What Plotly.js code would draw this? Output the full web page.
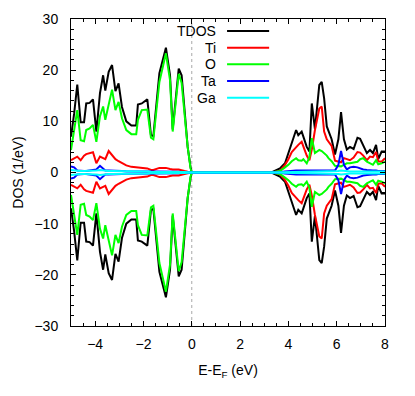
<!DOCTYPE html>
<html>
<head>
<meta charset="utf-8">
<script src="https://cdn.plot.ly/plotly-3.0.1.min.js"></script>
<style>
body { margin: 0; background: #fff; }
#myDiv { width: 415px; height: 396px; }
</style>
</head>
<body>
<div id="myDiv"></div>
<script>
// energy grid (eV), valence band then conduction band
var energy = [-5.0, -4.87, -4.74, -4.6, -4.46, -4.37, -4.23, -4.09, -3.95, -3.8,
    -3.67, -3.58, -3.44, -3.3, -3.16, -3.03, -2.89, -2.71, -2.5, -2.3,
    -2.23, -2.07, -1.84, -1.69, -1.59, -1.34, -1.07, -0.9, -0.79, -0.54,
    -0.42, -0.3, -0.17, -0.05, 0.0,
    3.3, 3.65, 3.86, 4.0, 4.14, 4.32, 4.41, 4.55, 4.62, 4.76,
    4.87, 4.97, 5.1, 5.28, 5.38, 5.48, 5.59, 5.66, 5.79, 5.93,
    6.07, 6.18, 6.3, 6.42, 6.55, 6.7, 6.86, 6.97, 7.1, 7.25,
    7.38, 7.5, 7.63, 7.72, 7.86, 8.0];

var tdos = [7.0, 11.5, 17.2, 9.8, 9.8, 13.5, 13.6, 14.3, 8.0, 15.5,
    19.0, 16.0, 19.7, 21.0, 15.9, 17.4, 12.8, 10.0, 9.2, 9.2,
    13.3, 13.5, 14.3, 7.3, 7.1, 19.4, 24.4, 19.0, 8.4, 20.3,
    19.0, 12.0, 5.0, 1.0, 0.0,
    0.0, 0.8, 1.8, 3.8, 6.0, 8.3, 7.3, 8.0, 7.0, 5.0,
    4.1, 13.5, 8.5, 17.1, 17.7, 14.5, 9.0, 8.0, 6.5, 3.5,
    6.5, 11.8, 6.5, 4.5, 5.0, 4.6, 6.8, 6.6, 5.4, 3.8,
    4.4, 3.8, 5.4, 2.6, 4.1, 4.1];

var ti = [2.4, 2.8, 3.1, 2.4, 3.3, 3.6, 3.8, 3.95, 1.8, 3.1,
    2.8, 2.6, 4.2, 3.4, 2.6, 2.2, 1.8, 1.4, 1.1, 1.0,
    0.9, 0.8, 0.8, 0.5, 0.5, 0.9, 0.9, 0.7, 0.6, 0.6,
    0.4, 0.3, 0.15, 0.05, 0.0,
    0.0, 0.3, 1.5, 2.6, 4.0, 5.0, 5.4, 6.0, 5.0, 3.3,
    2.4, 4.5, 8.3, 12.5, 12.9, 8.0, 6.5, 6.0, 5.2, 2.3,
    2.1, 2.0, 2.8, 2.6, 2.4, 2.9, 4.0, 3.9, 3.3, 2.4,
    3.1, 3.0, 4.0, 2.2, 2.1, 2.8];

var o = [4.4, 8.0, 12.2, 6.3, 6.1, 8.3, 8.6, 9.3, 6.0, 11.0,
    12.9, 10.3, 13.5, 16.2, 12.2, 13.8, 10.6, 8.3, 7.5, 7.5,
    10.3, 12.2, 12.3, 6.8, 6.5, 17.7, 23.3, 18.0, 8.0, 19.3,
    17.5, 11.5, 5.0, 0.8, 0.0,
    0.0, 0.3, 1.0, 1.5, 2.2, 2.8, 2.4, 2.3, 2.6, 1.8,
    3.0, 6.7, 3.8, 4.4, 4.2, 3.8, 3.3, 2.8, 2.2, 1.3,
    1.2, 1.2, 1.5, 1.8, 1.8, 1.9, 2.1, 2.6, 2.8, 2.1,
    1.8, 1.5, 2.4, 1.6, 1.8, 2.1];

var ta = [1.2, 1.0, 0.4, 0.3, 0.3, 0.3, 0.4, 0.5, 0.6, 1.3,
    0.7, 0.4, 0.4, 0.4, 0.3, 0.3, 0.3, 0.25, 0.25, 0.2,
    0.2, 0.2, 0.2, 0.15, 0.15, 0.2, 0.2, 0.15, 0.15, 0.15,
    0.1, 0.1, 0.05, 0.02, 0.0,
    0.0, 0.05, 0.2, 0.3, 0.4, 0.4, 0.4, 0.4, 0.4, 0.4,
    0.4, 0.4, 0.4, 0.4, 0.4, 0.4, 0.4, 0.4, 0.3, 0.4,
    1.5, 4.2, 1.5, 0.6, 1.0, 1.1, 1.0, 0.8, 0.6, 0.5,
    0.4, 0.4, 0.4, 0.3, 0.3, 0.3];

var ga = [0.5, 0.4, 0.3, 0.3, 0.3, 0.3, 0.35, 0.4, 0.4, 0.5,
    0.4, 0.3, 0.3, 0.3, 0.3, 0.3, 0.25, 0.25, 0.2, 0.2,
    0.2, 0.2, 0.2, 0.15, 0.15, 0.2, 0.2, 0.2, 0.15, 0.15,
    0.15, 0.1, 0.05, 0.02, 0.0,
    0.0, 0.02, 0.1, 0.1, 0.15, 0.15, 0.15, 0.15, 0.15, 0.15,
    0.15, 0.2, 0.2, 0.2, 0.2, 0.2, 0.2, 0.2, 0.2, 0.2,
    0.3, 0.4, 0.3, 0.2, 0.2, 0.2, 0.2, 0.2, 0.2, 0.2,
    0.2, 0.2, 0.2, 0.2, 0.2, 0.2];

var names = ['TDOS', 'Ti', 'O', 'Ta', 'Ga'];
var colors = ['#000000', '#ff0000', '#00ff00', '#0000ff', '#00ffff'];
var pdos = [tdos, ti, o, ta, ga];

var fontFam = '"Liberation Sans", Arial, Helvetica, sans-serif';

function neg(arr) {
    return arr.map(function(v) { return -v; });
}

let traces = [];
for (let i = 0; i < pdos.length; i++) {
    // spin up
    traces.push({
        x: energy, y: pdos[i], type: 'scatter', mode: 'lines',
        name: names[i], line: {color: colors[i], width: 2}
    });
    // spin down (mirrored)
    traces.push({
        x: energy, y: neg(pdos[i]), type: 'scatter', mode: 'lines',
        name: names[i], showlegend: false, line: {color: colors[i], width: 2}
    });
}

// gnuplot-like key: text right aligned, line sample on the right
let annotations = [];
let shapes = [{
    type: 'line', xref: 'x', yref: 'paper', x0: 0, x1: 0, y0: 0, y1: 1,
    layer: 'below', line: {color: '#a8a8a8', width: 1, dash: 'dot'}
}];
for (let i = 0; i < names.length; i++) {
    let yk = 0.961 - i*0.0543;
    annotations.push({
        xref: 'paper', yref: 'paper', x: 0.467, y: yk, xanchor: 'right', yanchor: 'middle',
        text: names[i], showarrow: false, font: {family: fontFam, size: 14, color: '#000'}
    });
    shapes.push({
        type: 'line', xref: 'paper', yref: 'paper', x0: 0.497, x1: 0.631, y0: yk, y1: yk,
        line: {color: colors[i], width: 2}
    });
}

const layout = {
    width: 415,
    height: 396,
    margin: {l: 71, r: 30, t: 19, b: 70},
    paper_bgcolor: '#ffffff',
    plot_bgcolor: '#ffffff',
    font: {family: fontFam, size: 14, color: '#000'},
    showlegend: false,
    xaxis: {
        range: [-5, 8], tick0: 0, dtick: 2,
        ticks: 'inside', ticklen: 5, tickcolor: '#000', mirror: 'allticks',
        showline: true, linecolor: '#000', linewidth: 1,
        showgrid: false, zeroline: false,
        minor: {dtick: 0.5, ticks: 'inside', ticklen: 3, tickcolor: '#000', showgrid: false},
        tickfont: {size: 14},
        ticklabelstandoff: 5,
        title: {text: 'E-E<sub>F</sub> (eV)', font: {size: 14}, standoff: 14}
    },
    yaxis: {
        range: [-30, 30], tick0: 0, dtick: 10,
        ticks: 'inside', ticklen: 5, tickcolor: '#000', mirror: 'allticks',
        showline: true, linecolor: '#000', linewidth: 1,
        showgrid: false, zeroline: false,
        minor: {dtick: 2, ticks: 'inside', ticklen: 3, tickcolor: '#000', showgrid: false},
        tickfont: {size: 14},
        ticklabelstandoff: 9,
        title: {text: 'DOS (1/eV)', font: {size: 14}, standoff: 7}
    },
    annotations: annotations,
    shapes: shapes
};

Plotly.newPlot('myDiv', traces, layout, {staticPlot: true});
</script>
</body>
</html>
